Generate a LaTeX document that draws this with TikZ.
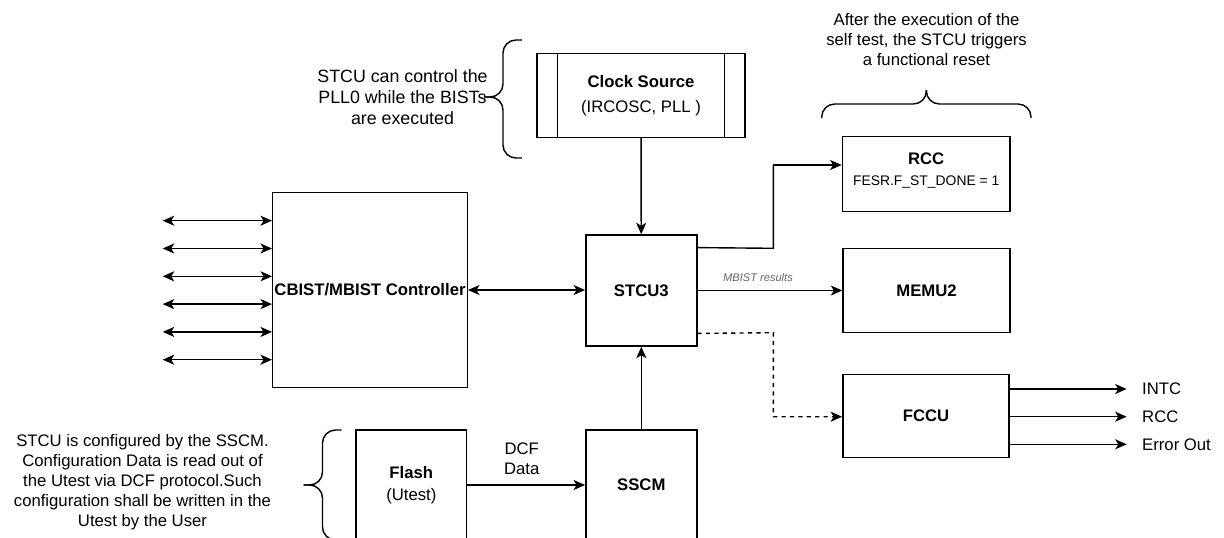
\documentclass[tikz,border=0pt]{standalone}
\usepackage{fontspec}
\setmainfont{Liberation Sans}
\usetikzlibrary{arrows.meta}
\definecolor{lbl}{HTML}{666666}
\begin{document}
\begin{tikzpicture}[x=1pt,y=-1pt,
  box/.style={draw, line width=1.4pt, fill=white, inner sep=0pt, align=center,
    font=\fontsize{16.7}{20}\selectfont\bfseries},
  note/.style={align=center, inner sep=0pt, font=\fontsize{16.7}{20}\selectfont},
  conn/.style={line width=1.4pt, -{Stealth[length=11.5pt,width=10pt,inset=3pt]}},
  biconn/.style={line width=1.4pt, {Stealth[length=11.5pt,width=10pt,inset=3pt]}-{Stealth[length=11.5pt,width=10pt,inset=3pt]}},
  dconn/.style={conn, dash pattern=on 4.2pt off 4.2pt},
  brace/.style={line width=1.4pt, rounded corners=13pt},
]
\useasboundingbox (0,0) rectangle (1224,538);
\clip (0,0) rectangle (1224,538);

% boxes
\node[box, minimum width=208pt, minimum height=84pt] (clk) at (641,95.3)
  {Clock Source\\[5pt]{\mdseries (IRCOSC, PLL )}};
\draw[line width=1.4pt] ([xshift=21pt]clk.north west) -- ([xshift=21pt]clk.south west);
\draw[line width=1.4pt] ([xshift=-21pt]clk.north east) -- ([xshift=-21pt]clk.south east);

\node[box, minimum width=111pt, minimum height=111pt] (stcu) at (641.3,290.5) {STCU3};
\node[box, minimum width=194.6pt, minimum height=194.6pt] (cbist) at (370,290) {CBIST/MBIST Controller};
\node[box, minimum width=167.7pt, minimum height=75pt] (rcc) at (926.2,174.2) {};
\node[note] (rcctext) at (926.2,170.5)
  {\textbf{RCC}\\[1pt]{\fontsize{13.9}{16}\selectfont FESR.F\_ST\_DONE = 1}};
\node[box, minimum width=167pt, minimum height=84pt] (memu) at (926.5,290.3) {MEMU2};
\node[box, minimum width=166.3pt, minimum height=83pt] (fccu) at (926,415.8) {FCCU};
\node[box, minimum width=110.7pt, minimum height=110pt] (flash) at (411.3,485)
  {Flash\\[2pt]{\mdseries (Utest)}};
\node[box, minimum width=111pt, minimum height=110pt] (sscm) at (641.3,485) {SSCM};

% notes
\node[note, font=\fontsize{17.8}{21}\selectfont] (n1) at (402.5,97) {STCU can control the\\PLL0 while the BISTs\\are executed};
\node[note] (n2) at (926.5,40) {After the execution of the\\self test, the STCU triggers\\a functional reset};
\node[note] (n3) at (142.5,482) {STCU is configured by the SSCM.\\Configuration Data is read out of\\the Utest via DCF protocol.Such\\configuration shall be written in the\\Utest by the User};

% braces
\draw[brace] (522,40) -- (503,40) -- (503,97) -- (484,97);
\draw[brace] (484,97) -- (503,97) -- (503,158) -- (522,158);
\draw[brace] (341.7,430) -- (322.5,430) -- (322.5,485) -- (303.5,485);
\draw[brace] (303.5,485) -- (322.5,485) -- (322.5,540) -- (341.7,540);
\draw[brace] (821.7,118) -- (821.7,104) -- (926.4,104) -- (926.4,90);
\draw[brace] (926.4,90) -- (926.4,104) -- (1031,104) -- (1031,118);

% connectors
\draw[conn] (clk) -- (stcu);
\draw[conn] (sscm) -- (stcu);
\draw[conn] (flash) -- (sscm);
\node[note] (dcf) at (521.7,458.3) {DCF\\Data};
\draw[biconn] (cbist.east) -- (cbist.east -| stcu.west);
\coordinate (b1) at (773.3,248.3);
\coordinate (b2) at (773.3,165);
\draw[line width=1.4pt] ([yshift=-13.3pt]stcu.north east) -- (b1) -- (b2);
\draw[conn] (b2) -- (b2 -| rcc.west);
\draw[conn] (stcu.east) -- (stcu.east -| memu.west);
\node[inner sep=0pt, text=lbl, font=\fontsize{11.1}{13}\selectfont\itshape] (mb) at (758,277.3) {MBIST results};
\coordinate (d1) at (773.3,332.7);
\coordinate (d2) at (773.3,416.7);
\draw[dconn] ([yshift=13.3pt]stcu.south east) -- (d1) -- (d2) -- (d2 -| fccu.west);

% FCCU outputs
\node[note, anchor=west] (intc) at (1142,389) {INTC};
\node[note, anchor=west] (orcc) at (1142,416.7) {RCC};
\node[note, anchor=west] (err) at (1142,444.3) {Error Out};
\foreach \t in {intc,orcc,err}
  \draw[conn] (fccu.east |- \t.west) -- ([xshift=-15.3pt]\t.west);

% left side arrows
\foreach \y [count=\i] in {220.7,248.5,276.3,304.1,331.9,359.7} {
  \coordinate (L\i) at (162.7,\y);
  \draw[biconn] (L\i) -- (L\i -| cbist.west);
}
\end{tikzpicture}
\end{document}
